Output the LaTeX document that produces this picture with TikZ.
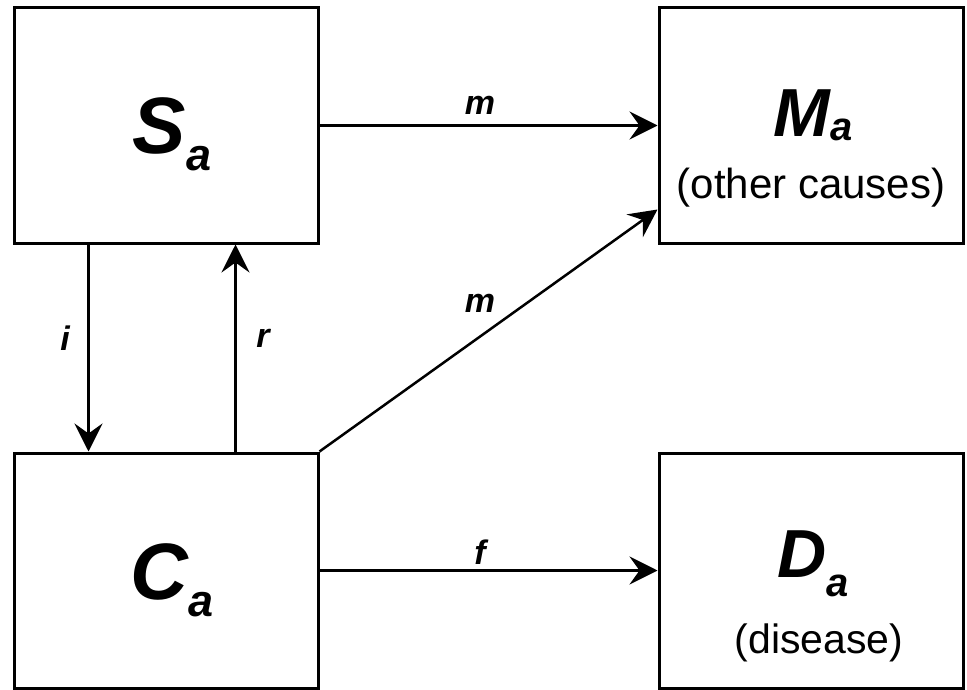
\documentclass[tikz,border=0pt]{standalone}
\usepackage{fontspec}
\setmainfont{Liberation Sans}
\usetikzlibrary{arrows.meta}
\tikzset{
  box/.style={draw=black, line width=3pt, minimum width=304pt, minimum height=235pt, inner sep=0pt},
  flow/.style={draw=black, line width=2.5pt, -{Stealth[length=28pt,width=28pt,inset=10pt]}},
  rate/.style={font=\fontsize{34}{34}\selectfont\bfseries\itshape, inner sep=0pt},
  big/.style={font=\fontsize{80}{80}\selectfont\bfseries\itshape, inner sep=0pt, anchor=base},
  mid/.style={font=\fontsize{68}{68}\selectfont\bfseries\itshape, inner sep=0pt, anchor=base},
  sub/.style={inner sep=0pt, anchor=base}
}
\newcommand{\subA}[2]{\raisebox{#2}{\fontsize{#1}{#1}\selectfont a}}
\begin{document}
\begin{tikzpicture}[x=1pt,y=-1pt]
\useasboundingbox (0,0) rectangle (967,690);
\node[box] (S) at (166,125.5) {};
\node[box] (M) at (811,125.5) {};
\node[box] (C) at (166,570.5) {};
\node[box] (D) at (811,570.5) {};
\node[big] (St) at (172,154) {S\subA{45}{-17pt}};
\node[big] (Ct) at (172,599) {C\subA{45}{-17pt}};
\node[mid] (Mt) at (813,137) {M\subA{40}{-4pt}};
\node[mid] (Dt) at (813,577) {D\subA{40}{-19pt}};
\node[sub, font=\fontsize{42}{42}\selectfont] (Ms) at (811,198) {(other causes)};
\node[sub, font=\fontsize{41}{41}\selectfont] (Ds) at (819,653) {(disease)};
\draw[flow] (S.east) -- (M.west);
\draw[flow] (C.north east) -- ([yshift=35pt]M.south west);
\draw[flow] (C.east) -- (D.west);
\draw[flow] ([xshift=76pt]S.south west) -- ([xshift=76pt]C.north west);
\draw[flow] ([xshift=223pt]C.north west) -- ([xshift=223pt]S.south west);
\node[rate] (lm1) at (480,105) {m};
\node[rate] (lm2) at (480,303) {m};
\node[rate] (lf) at (480,552) {f};
\node[rate] (li) at (65,338) {i};
\node[rate] (lr) at (263,338) {r};
\end{tikzpicture}
\end{document}
